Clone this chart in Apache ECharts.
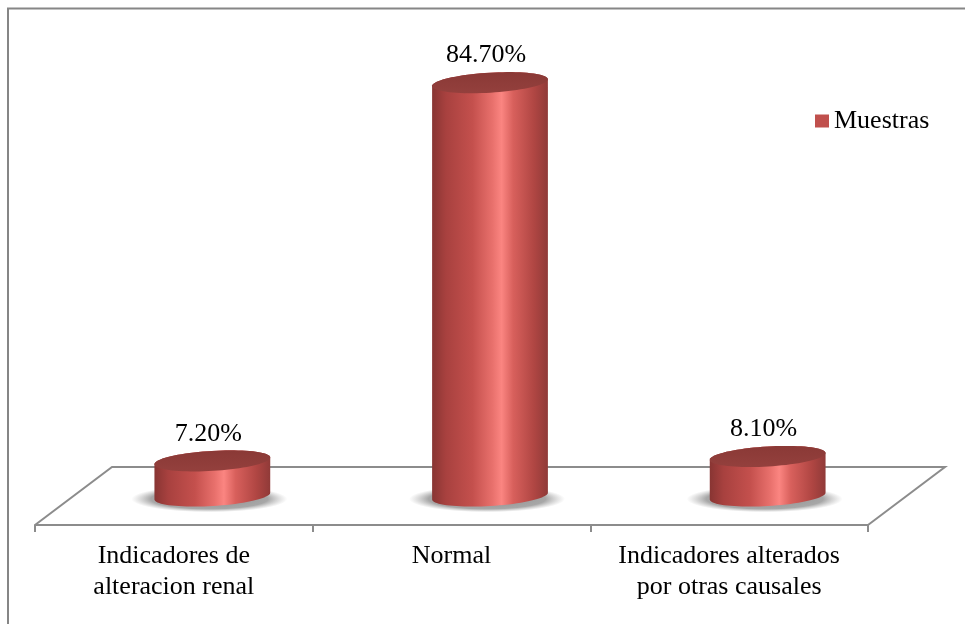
<!DOCTYPE html>
<html>
<head>
<meta charset="utf-8">
<script src="https://cdn.jsdelivr.net/npm/echarts@6/dist/echarts.min.js"></script>
<style>
  html, body { margin: 0; padding: 0; background: #ffffff; }
  #chart { width: 965px; height: 624px; }
</style>
</head>
<body>
<div id="chart"></div>
<script>
// Categories and values
const categories = [
  'Indicadores de\nalteracion renal',
  'Normal',
  'Indicadores alterados\npor otras causales'
];
const seriesName = 'Muestras';
const muestras = [7.2, 84.7, 8.1];

const FONT = '"Liberation Serif", "Times New Roman", serif';
const LINE = '#8c8c8c';
// Perspective of the floor: horizontal and vertical depth offsets
const DEPTH_X = 77, DEPTH_Y = 58;
// Cylinder cross-section ellipse and its slight tilt
const RX = 58, RY = 10, TILT = -0.06;

function ellipsePoints(cx, cy, rx, ry, t0, t1, n) {
  const pts = [];
  const c = Math.cos(TILT), s = Math.sin(TILT);
  for (let k = 0; k <= n; k++) {
    const t = t0 + (t1 - t0) * k / n;
    const ex = rx * Math.cos(t), ey = ry * Math.sin(t);
    pts.push([cx + ex * c - ey * s, cy + ex * s + ey * c]);
  }
  return pts;
}

const bodyGradient = new echarts.graphic.LinearGradient(0, 0, 1, 0, [
  { offset: 0.00, color: '#883533' },
  { offset: 0.12, color: '#a8413f' },
  { offset: 0.35, color: '#c4504d' },
  { offset: 0.52, color: '#e8706c' },
  { offset: 0.60, color: '#fb8581' },
  { offset: 0.70, color: '#d8605c' },
  { offset: 0.88, color: '#b04643' },
  { offset: 1.00, color: '#903a38' }
]);

const capGradient = new echarts.graphic.LinearGradient(0, 0, 0, 1, [
  { offset: 0, color: '#8a3936' },
  { offset: 1, color: '#94403d' }
]);

function renderCylinder(params, api) {
  const idx = api.value(0);
  const val = api.value(1);
  const p0 = api.coord([idx, 0]);
  const p1 = api.coord([idx, val]);
  const cx = p0[0] + DEPTH_X / 2;
  const baseY = p0[1] - DEPTH_Y / 2;
  const topY = baseY - (p0[1] - p1[1]);

  const body = ellipsePoints(cx, baseY, RX, RY, 0, Math.PI, 40)
    .concat(ellipsePoints(cx, topY, RX, RY, Math.PI, 2 * Math.PI, 40));
  const cap = ellipsePoints(cx, topY, RX, RY, 0, 2 * Math.PI, 80);

  return {
    type: 'group',
    children: [
      {
        type: 'circle',
        x: cx - 3, y: baseY + 3,
        scaleX: 1, scaleY: 0.17,
        shape: { cx: 0, cy: 0, r: 78 },
        style: {
          fill: new echarts.graphic.RadialGradient(0.5, 0.5, 0.5, [
            { offset: 0, color: 'rgba(60,60,60,0.6)' },
            { offset: 0.75, color: 'rgba(80,80,80,0.5)' },
            { offset: 1, color: 'rgba(120,120,120,0)' }
          ])
        },
        silent: true
      },
      {
        type: 'polygon',
        shape: { points: body },
        style: { fill: bodyGradient }
      },
      {
        type: 'polygon',
        shape: { points: cap },
        style: { fill: capGradient }
      },
      {
        type: 'text',
        x: cx - 4,
        y: topY - 27,
        style: {
          text: val.toFixed(2) + '%',
          fill: '#000000',
          font: '26px ' + FONT,
          align: 'center',
          verticalAlign: 'middle'
        }
      }
    ]
  };
}

function renderFloor(params, api) {
  const cs = params.coordSys;
  const x0 = cs.x, x1 = cs.x + cs.width, yb = cs.y + cs.height;
  return {
    type: 'polyline',
    shape: {
      points: [
        [x0, yb],
        [x0 + DEPTH_X, yb - DEPTH_Y],
        [x1 + DEPTH_X, yb - DEPTH_Y],
        [x1, yb]
      ]
    },
    style: { stroke: LINE, lineWidth: 2, fill: null },
    silent: true
  };
}

const chart = echarts.init(document.getElementById('chart'), null, { renderer: 'canvas' });

chart.setOption({
  animation: false,
  backgroundColor: '#ffffff',
  graphic: [
    {
      type: 'rect',
      shape: { x: 8, y: 8.5, width: 1000, height: 700 },
      style: { fill: null, stroke: '#868686', lineWidth: 2 },
      silent: true
    }
  ],
  legend: {
    data: [seriesName],
    left: 810,
    top: 103,
    icon: 'rect',
    itemWidth: 14,
    itemHeight: 13,
    itemGap: 6,
    textStyle: { fontFamily: FONT, fontSize: 26, color: '#000000' }
  },
  grid: { left: 35, right: 97, top: 37, bottom: 99, containLabel: false },
  xAxis: {
    type: 'category',
    data: categories,
    axisLine: { show: true, lineStyle: { color: LINE, width: 2 } },
    axisTick: { show: true, length: 7, lineStyle: { color: LINE, width: 2 } },
    axisLabel: {
      interval: 0,
      margin: 16,
      color: '#000000',
      fontFamily: FONT,
      fontSize: 26,
      lineHeight: 31
    },
    splitLine: { show: false }
  },
  yAxis: {
    type: 'value',
    min: 0,
    max: 100,
    show: false
  },
  series: [
    {
      type: 'custom',
      name: 'floor',
      z: 1,
      data: [[0, 0]],
      renderItem: renderFloor,
      clip: false,
      silent: true
    },
    {
      type: 'custom',
      name: seriesName,
      z: 2,
      itemStyle: { color: '#c0504d' },
      data: muestras.map((v, i) => [i, v]),
      encode: { x: 0, y: 1 },
      renderItem: renderCylinder,
      clip: false
    }
  ]
});
</script>
</body>
</html>
